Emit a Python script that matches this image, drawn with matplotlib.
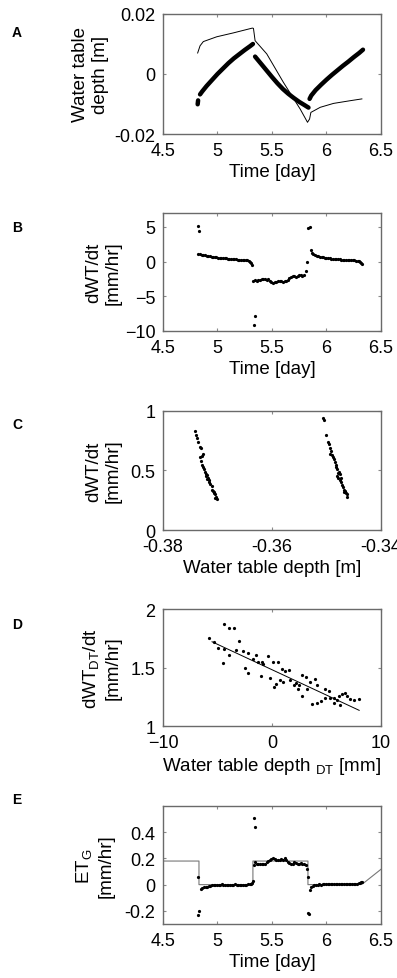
import numpy as np
import matplotlib
matplotlib.use("Agg")
import matplotlib.pyplot as plt

plt.rcParams['font.family'] = ['Liberation Sans', 'DejaVu Sans']
plt.rcParams['mathtext.fontset'] = 'custom'
plt.rcParams['mathtext.rm'] = 'Liberation Sans'
plt.rcParams['font.size'] = 13.5
plt.rcParams['xtick.labelsize'] = 13
plt.rcParams['ytick.labelsize'] = 13

# ---- Panel A: water table depth ----
a_blob_t = [4.818, 4.822]
a_blob_v = [-0.0101, -0.0088]
a_seg1_t = [4.840, 4.860, 4.900, 4.950, 5.000, 5.050, 5.100, 5.150, 5.200, 5.250, 5.300, 5.325]
a_seg1_v = [-0.0068, -0.0058, -0.0040, -0.0020, 0.0000, 0.0018, 0.0036, 0.0052, 0.0066, 0.0080, 0.0093, 0.0100]
a_seg2_t = [5.345, 5.400, 5.450, 5.500, 5.550, 5.600, 5.650, 5.700, 5.750, 5.800, 5.835]
a_seg2_v = [0.0058, 0.0034, 0.0012, -0.0010, -0.0031, -0.0050, -0.0066, -0.0080, -0.0093, -0.0104, -0.0112]
a_seg3_t = [5.845, 5.860, 5.900, 5.950, 6.000, 6.050, 6.100, 6.150, 6.200, 6.250, 6.300, 6.335]
a_seg3_v = [-0.0083, -0.0072, -0.0054, -0.0036, -0.0019, -0.0003, 0.0012, 0.0027, 0.0041, 0.0056, 0.0070, 0.0081]
a_thin_t = [4.818, 4.840, 4.870, 4.993, 5.146, 5.320, 5.330, 5.345, 5.452, 5.605, 5.759, 5.826,
            5.845, 5.857, 5.943, 6.065, 6.218, 6.325]
a_thin_v = [0.0070, 0.0094, 0.0108, 0.0124, 0.0137, 0.0153, 0.0152, 0.0111, 0.0067, -0.0028, -0.0117, -0.0161,
            -0.0150, -0.0128, -0.0111, -0.0098, -0.0089, -0.0083]

# ---- Panel B: dWT/dt ----
b_t = [4.822, 4.832,
       4.825, 4.840, 4.855, 4.870, 4.885, 4.900, 4.915, 4.930, 4.945, 4.960, 4.975, 4.990,
       5.005, 5.020, 5.035, 5.050, 5.065, 5.080, 5.095, 5.110, 5.125, 5.140, 5.155, 5.170,
       5.185, 5.200, 5.215, 5.230, 5.245, 5.260, 5.275, 5.290, 5.300, 5.310, 5.320,
       5.333, 5.345,
       5.330, 5.345, 5.360, 5.375, 5.390, 5.405, 5.420, 5.435, 5.450, 5.465, 5.480, 5.495,
       5.510, 5.525, 5.540, 5.555, 5.570, 5.585, 5.600, 5.615, 5.630, 5.645, 5.660, 5.675,
       5.690, 5.705, 5.720, 5.735, 5.750, 5.765, 5.780, 5.795, 5.808, 5.820,
       5.835, 5.845,
       5.855, 5.865, 5.880, 5.895, 5.910, 5.925, 5.940, 5.955, 5.970, 5.985, 6.000, 6.015,
       6.030, 6.045, 6.060, 6.075, 6.090, 6.105, 6.120, 6.135, 6.150, 6.165, 6.180, 6.195,
       6.210, 6.225, 6.240, 6.255, 6.270, 6.285, 6.300, 6.310, 6.320, 6.330]
b_v = [5.1, 4.4,
       1.15, 1.10, 1.00, 0.95, 0.90, 0.85, 0.80, 0.75, 0.70, 0.68, 0.62, 0.60,
       0.57, 0.55, 0.52, 0.50, 0.47, 0.45, 0.42, 0.40, 0.38, 0.36, 0.35, 0.33,
       0.30, 0.29, 0.27, 0.25, 0.22, 0.20, 0.17, 0.10, 0.00, -0.20, -0.50,
       -9.2, -7.9,
       -2.75, -2.70, -2.75, -2.70, -2.65, -2.55, -2.50, -2.55, -2.60, -2.55, -2.75, -2.95,
       -3.05, -3.00, -2.90, -2.85, -2.75, -2.80, -2.90, -2.85, -2.75, -2.60, -2.35, -2.15,
       -2.10, -2.05, -2.20, -2.05, -1.95, -2.00, -2.10, -1.95, -1.40, 0.00,
       4.9, 5.0,
       1.60, 1.30, 1.10, 0.95, 0.85, 0.78, 0.70, 0.65, 0.60, 0.55, 0.52, 0.48,
       0.45, 0.42, 0.40, 0.38, 0.35, 0.33, 0.31, 0.30, 0.28, 0.26, 0.25, 0.24,
       0.22, 0.21, 0.20, 0.18, 0.15, 0.10, 0.02, -0.10, -0.25, -0.40]

# ---- Panel C: dWT/dt vs depth ----
c_depth = [-0.3741, -0.3739, -0.3737, -0.3735, -0.3733, -0.3731, -0.3726, -0.3728, -0.3732, -0.3730,
           -0.3728, -0.3727, -0.3725, -0.3723, -0.3721, -0.3719, -0.3722, -0.3717, -0.3719, -0.3715,
           -0.3716, -0.3713, -0.3711, -0.3710, -0.3708, -0.3706, -0.3707, -0.3704, -0.3703, -0.3705,
           -0.3701,
           -0.3507, -0.3505, -0.3500, -0.3497, -0.3496, -0.3494, -0.3491, -0.3493, -0.3489, -0.3488,
           -0.3486, -0.3485, -0.3483, -0.3482, -0.3480, -0.3477, -0.3479, -0.3476, -0.3481, -0.3478,
           -0.3474, -0.3476, -0.3473, -0.3471, -0.3470, -0.3468, -0.3466, -0.3467, -0.3465, -0.3463,
           -0.3462]
c_rate = [0.83, 0.80, 0.77, 0.74, 0.70, 0.69, 0.64, 0.62, 0.61, 0.58,
          0.55, 0.53, 0.51, 0.49, 0.47, 0.46, 0.45, 0.44, 0.43, 0.42,
          0.40, 0.39, 0.37, 0.34, 0.33, 0.32, 0.31, 0.30, 0.28, 0.27,
          0.26,
          0.94, 0.92, 0.80, 0.74, 0.72, 0.69, 0.66, 0.64, 0.63, 0.61,
          0.60, 0.57, 0.55, 0.53, 0.51, 0.49, 0.48, 0.47, 0.45, 0.44,
          0.44, 0.42, 0.40, 0.38, 0.36, 0.34, 0.33, 0.32, 0.31, 0.30,
          0.28]

# ---- Panel D: detrended ----
d_depth = [-5.74, -5.31, -4.92, -4.40, -4.40, -3.90, -3.45, -3.90, -4.52, -3.32, -3.05, -2.62, -2.47,
           -2.16, -2.16, -1.70, -1.45, -1.24, -0.93, -0.78, -0.32, -0.17, 0.14, 0.35, 0.75, 0.08,
           0.51, 0.90, 1.21, 1.52, 1.67, 1.98, 2.22, 2.43, 2.74, 2.74, 3.14, 3.20, 3.51, 3.97, 4.12,
           3.66, 4.12, 4.52, 4.89, 5.19, 5.34, 5.71, 5.96, 6.11, 6.42, 6.72, 6.88, 7.18, 7.55, 7.95,
           5.65, 6.20, 4.89, 1.0, -1.0, 2.5]
d_rate = [1.75, 1.72, 1.67, 1.66, 1.87, 1.84, 1.84, 1.61, 1.54, 1.65, 1.73, 1.64, 1.50,
          1.45, 1.62, 1.57, 1.61, 1.55, 1.55, 1.53, 1.60, 1.41, 1.33, 1.36, 1.39, 1.55,
          1.55, 1.49, 1.47, 1.48, 1.39, 1.35, 1.37, 1.32, 1.26, 1.44, 1.42, 1.32, 1.38, 1.40, 1.35,
          1.19, 1.20, 1.21, 1.32, 1.30, 1.24, 1.24, 1.22, 1.26, 1.27, 1.28, 1.26, 1.23, 1.22, 1.23,
          1.20, 1.18, 1.24, 1.38, 1.43, 1.35]
d_fit_x = [-5.5, 8.0]
d_fit_y = [1.72, 1.134]

# ---- Panel E: ET_G ----
e_step_t = [4.5, 4.83, 4.83, 5.325, 5.325, 5.83, 5.83, 6.33, 6.5]
e_step_v = [0.18, 0.18, 0.0, 0.0, 0.18, 0.18, 0.0, 0.005, 0.117]
e_t = [4.820, 4.825, 4.833, 5.335, 5.345, 5.825, 5.828, 5.835, 5.842,
       4.850, 4.860, 4.875, 4.890, 4.905, 4.920, 4.935, 4.950, 4.965, 4.980, 4.995, 5.010,
       5.025, 5.040, 5.055, 5.070, 5.085, 5.100, 5.115, 5.130, 5.145, 5.160, 5.175, 5.190,
       5.205, 5.220, 5.235, 5.250, 5.265, 5.280, 5.295, 5.305, 5.315, 5.325,
       5.335, 5.345, 5.360, 5.375, 5.390, 5.405, 5.420, 5.435, 5.450, 5.465, 5.480, 5.495,
       5.510, 5.525, 5.540, 5.555, 5.570, 5.585, 5.600, 5.615, 5.630, 5.645, 5.660, 5.675,
       5.690, 5.705, 5.720, 5.735, 5.750, 5.765, 5.780, 5.795, 5.810,
       5.850, 5.860, 5.875, 5.890, 5.905, 5.920, 5.935, 5.950, 5.965, 5.980, 5.995, 6.010,
       6.025, 6.040, 6.055, 6.070, 6.085, 6.100, 6.115, 6.130, 6.145, 6.160, 6.175, 6.190,
       6.205, 6.220, 6.235, 6.250, 6.265, 6.280, 6.295, 6.305, 6.315, 6.325]
e_v = [0.055, -0.23, -0.20, 0.51, 0.44, 0.12, 0.06, -0.215, -0.225,
       -0.035, -0.025, -0.020, -0.018, -0.015, -0.010, -0.008, -0.005, -0.004, -0.003, -0.002, 0.000,
       0.000, 0.002, 0.000, -0.002, 0.000, 0.001, 0.000, -0.001, 0.000, 0.002, 0.000, 0.000,
       -0.002, 0.000, 0.001, 0.000, 0.000, 0.002, 0.004, 0.008, 0.015, 0.030,
       0.150, 0.170, 0.160, 0.155, 0.160, 0.155, 0.160, 0.160, 0.170, 0.180, 0.190, 0.195,
       0.200, 0.195, 0.190, 0.190, 0.190, 0.195, 0.190, 0.200, 0.190, 0.170, 0.165, 0.160,
       0.160, 0.170, 0.165, 0.160, 0.160, 0.165, 0.160, 0.160, 0.150,
       -0.040, -0.020, -0.010, -0.005, -0.003, 0.000, 0.002, 0.000, 0.003, 0.002, 0.005, 0.004,
       0.005, 0.006, 0.004, 0.005, 0.006, 0.005, 0.004, 0.006, 0.005, 0.004, 0.006, 0.005,
       0.004, 0.006, 0.005, 0.004, 0.006, 0.008, 0.010, 0.012, 0.018, 0.022]


def style(ax):
    for sp in ax.spines.values():
        sp.set_color('#6a6a6a')
        sp.set_linewidth(1.0)
    # MATLAB-like short inward ticks on all four sides
    ax.tick_params(direction='in', top=True, right=True, length=2.0, width=0.8,
                   color='#8a8a8a')
    ax.tick_params(axis='x', pad=5.5)
    ax.tick_params(axis='y', pad=5.5)


fig = plt.figure(figsize=(3.97, 9.79), dpi=100)
L, W = 0.4106, 0.549
ax_a = fig.add_axes([L, 0.8621, W, 0.1226])
ax_b = fig.add_axes([L, 0.6609, W, 0.1205])
ax_c = fig.add_axes([L, 0.4576, W, 0.1216])
ax_d = fig.add_axes([L, 0.2574, W, 0.1195])
ax_e = fig.add_axes([L, 0.0552, W, 0.1205])

DOT = 2.3

# A
ax_a.plot(a_thin_t, a_thin_v, color='black', lw=0.7)
for t, v in [(a_blob_t, a_blob_v), (a_seg1_t, a_seg1_v), (a_seg2_t, a_seg2_v), (a_seg3_t, a_seg3_v)]:
    ax_a.plot(t, v, color='black', lw=3.2, solid_capstyle='round')
ax_a.set_xlim(4.5, 6.5)
ax_a.set_ylim(-0.02, 0.02)
ax_a.set_xticks([4.5, 5, 5.5, 6, 6.5])
ax_a.set_xticklabels(['4.5', '5', '5.5', '6', '6.5'])
ax_a.set_yticks([-0.02, 0, 0.02])
ax_a.set_yticklabels(['-0.02', '0', '0.02'])
ax_a.set_xlabel('Time [day]', labelpad=3)
ax_a.set_ylabel('Water table\ndepth [m]')
ax_a.yaxis.set_label_coords(-0.25, 0.5)

# B
ax_b.plot(b_t, b_v, 'o', color='black', ms=DOT, mew=0)
ax_b.set_xlim(4.5, 6.5)
ax_b.set_ylim(-10, 7)
ax_b.set_xticks([4.5, 5, 5.5, 6, 6.5])
ax_b.set_xticklabels(['4.5', '5', '5.5', '6', '6.5'])
ax_b.set_yticks([-10, -5, 0, 5])
ax_b.set_xlabel('Time [day]', labelpad=3)
ax_b.set_ylabel('dWT/dt\n[mm/hr]')
ax_b.yaxis.set_label_coords(-0.19, 0.5)

# C
ax_c.plot(c_depth, c_rate, 'o', color='black', ms=DOT, mew=0)
ax_c.set_xlim(-0.38, -0.34)
ax_c.set_ylim(0, 1)
ax_c.set_xticks([-0.38, -0.36, -0.34])
ax_c.set_xticklabels(['-0.38', '-0.36', '-0.34'])
ax_c.set_yticks([0, 0.5, 1])
ax_c.set_yticklabels(['0', '0.5', '1'])
ax_c.set_xlabel('Water table depth [m]', labelpad=3)
ax_c.set_ylabel('dWT/dt\n[mm/hr]')
ax_c.yaxis.set_label_coords(-0.19, 0.5)

# D
ax_d.plot(d_fit_x, d_fit_y, color='black', lw=0.7)
ax_d.plot(d_depth, d_rate, 'o', color='black', ms=DOT, mew=0)
ax_d.set_xlim(-10, 10)
ax_d.set_ylim(1, 2)
ax_d.set_xticks([-10, 0, 10])
ax_d.set_yticks([1, 1.5, 2])
ax_d.set_yticklabels(['1', '1.5', '2'])
ax_d.set_xlabel(r'Water table depth $_{\mathregular{DT}}$ [mm]', labelpad=3)
ax_d.set_ylabel('dWT$_{\\mathregular{DT}}$/dt\n[mm/hr]')
ax_d.yaxis.set_label_coords(-0.19, 0.5)

# E
ax_e.plot(e_step_t, e_step_v, color='#777777', lw=0.8)
ax_e.plot(e_t, e_v, 'o', color='black', ms=DOT, mew=0)
ax_e.set_xlim(4.5, 6.5)
ax_e.set_ylim(-0.3, 0.6)
ax_e.set_xticks([4.5, 5, 5.5, 6, 6.5])
ax_e.set_xticklabels(['4.5', '5', '5.5', '6', '6.5'])
ax_e.set_yticks([-0.2, 0, 0.2, 0.4])
ax_e.set_yticklabels(['-0.2', '0', '0.2', '0.4'])
ax_e.set_xlabel('Time [day]', labelpad=3)
ax_e.set_ylabel('ET$_{\\mathregular{G}}$\n[mm/hr]')
ax_e.yaxis.set_label_coords(-0.22, 0.5)

for ax in [ax_a, ax_b, ax_c, ax_d, ax_e]:
    style(ax)

for letter, y in [('A', 33), ('B', 228), ('C', 425), ('D', 625), ('E', 800)]:
    fig.text(12 / 397, 1 - y / 979, letter, fontsize=10, fontweight='bold', va='center', ha='left')

fig.savefig('out.png', dpi=100)
